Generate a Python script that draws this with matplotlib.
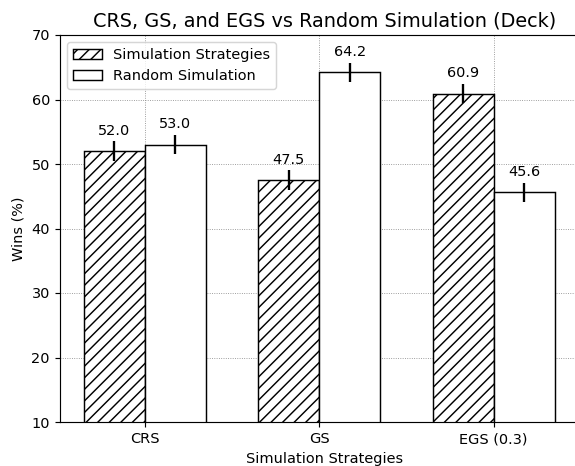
import numpy as np
import matplotlib
matplotlib.use('Agg')
import matplotlib.pyplot as plt

# Data
strategies = ['CRS', 'GS', 'EGS (0.3)']
sim_wins = [52.0, 47.5, 60.9]
random_wins = [53.0, 64.2, 45.6]
sim_err = [1.5, 1.5, 1.5]
random_err = [1.5, 1.5, 1.5]

width = 0.35
x = np.arange(len(strategies))

dpi = 104
fig = plt.figure(figsize=(575 / dpi, 466 / dpi), dpi=dpi)
# axes run past the right edge, as in the (cropped) reference
ax = fig.add_axes([60 / 575, 44 / 466, 530 / 575, 387 / 466])

bars1 = ax.bar(x - width / 2, sim_wins, width, yerr=sim_err, color='white',
               edgecolor='black', hatch='///', label='Simulation Strategies',
               error_kw=dict(ecolor='black', elinewidth=1.6, capsize=0))
bars2 = ax.bar(x + width / 2, random_wins, width, yerr=random_err, color='white',
               edgecolor='black', label='Random Simulation',
               error_kw=dict(ecolor='black', elinewidth=1.6, capsize=0))

# Value labels above each bar
for bars, errs in [(bars1, sim_err), (bars2, random_err)]:
    for b, e in zip(bars, errs):
        h = b.get_height()
        ax.text(b.get_x() + b.get_width() / 2, h + e + 0.6, f'{h:.1f}',
                ha='center', va='bottom', fontsize=10)

ax.set_xlim(-0.485, -0.485 + 530 / 174.5)
ax.set_ylim(10, 70)
ax.set_xticks(x)
ax.set_xticklabels(strategies)
ax.set_xlabel('Simulation Strategies')
ax.set_ylabel('Wins (%)')
ax.set_title('CRS, GS, and EGS vs Random Simulation (Deck)', fontsize=13.3)
ax.grid(True, linestyle=':', color='#888888', linewidth=0.6)
ax.set_axisbelow(True)
ax.legend(loc='upper left')

fig.savefig('out.png', dpi=dpi)
